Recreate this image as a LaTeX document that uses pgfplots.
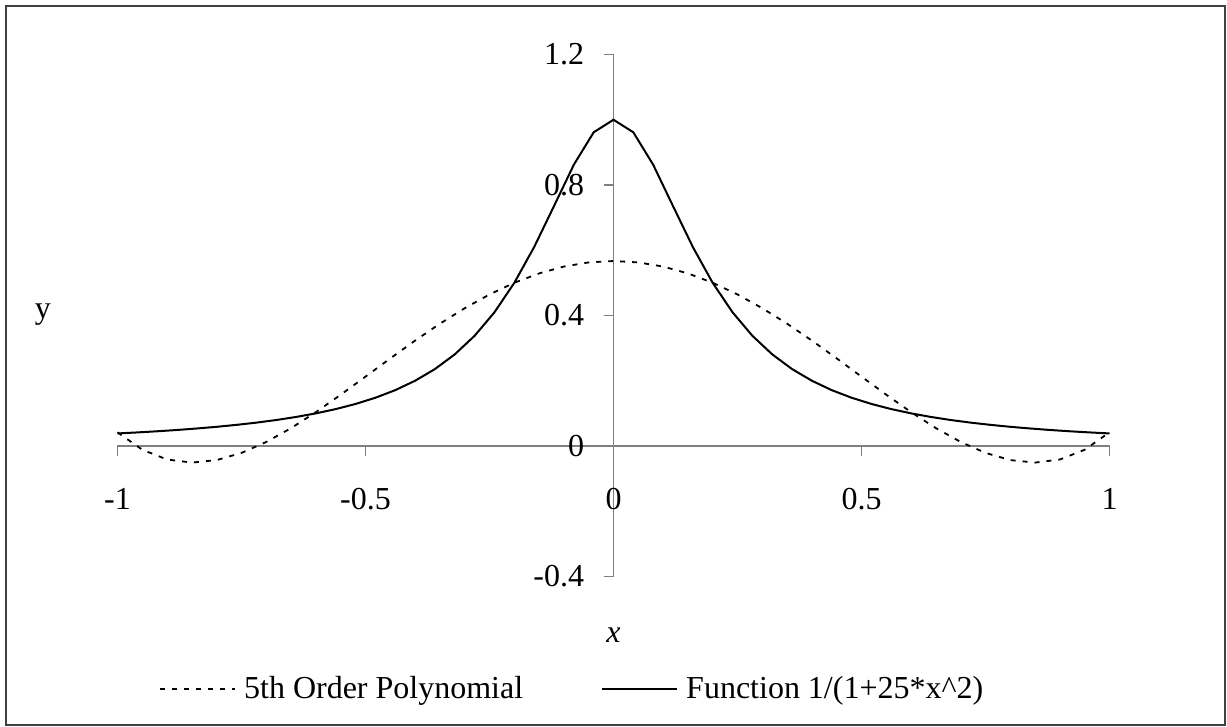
\documentclass[border=0pt]{standalone}
\usepackage{pgfplots}
\pgfplotsset{compat=1.18}
\usepackage{fontspec}
\setmainfont{Liberation Serif}
\begin{document}
\begin{tikzpicture}[font=\fontsize{16}{19}\selectfont]
\useasboundingbox (-58.75pt,-75.25pt) rectangle (554.75pt,288.25pt);
\draw[line width=1pt, color=black!75] (-55.75pt,-74.25pt) rectangle (553.75pt,285.25pt);
\begin{axis}[
  at={(0pt,0pt)}, anchor=south west,
  scale only axis, width=496pt, height=261pt,
  xmin=-1, xmax=1, ymin=-0.4, ymax=1.2,
  axis lines=middle,
  axis line style={black!50, line width=0.65pt, -},
  hide obscured x ticks=false, hide obscured y ticks=false,
  xtick={-1,-0.5,0,0.5,1},
  xticklabels={-1,-0.5,0,0.5,1},
  ytick={-0.4,0,0.4,0.8,1.2},
  yticklabels={-0.4,0,0.4,0.8,1.2},
  tick align=center, major tick length=5pt,
  xtick style={black!50, line width=0.65pt, yshift=-2.5pt},
  ytick style={black!50, line width=0.65pt, xshift=-2.5pt},
  tick label style={font=\fontsize{16}{19}\selectfont, inner sep=0pt},
  label style={font=\fontsize{16}{19}\selectfont},
  xticklabel style={anchor=base, yshift=-29.5pt},
  yticklabel style={anchor=east, xshift=-12pt},
  xlabel={\textit{x}}, ylabel={y},
  every axis x label/.style={at={(axis description cs:0.5,-0.112)}, anchor=center},
  every axis y label/.style={at={(axis description cs:-0.0751,0.501)}, anchor=center},
  legend columns=2,
  legend style={draw=none, fill=none, inner sep=0pt,
    at={(axis description cs:0.0418,-0.2155)}, anchor=west,
    font=\fontsize{16}{19}\selectfont,
    /tikz/every odd column/.append style={column sep=4pt},
    /tikz/every even column/.append style={column sep=39pt},
    nodes={inner sep=0pt}},
  legend cell align=left,
  legend image code/.code={\draw[#1] (0pt,0pt) -- (37.5pt,0pt);},
  clip=false,
]
\addplot[black, line width=0.9pt, dash pattern=on 2.5pt off 3.5pt] coordinates {
(-1,0.042) (-0.95,-0.0115) (-0.9,-0.0414) (-0.85,-0.0509) (-0.8,-0.0432) (-0.75,-0.0212)
(-0.7,0.0124) (-0.65,0.0548) (-0.6,0.1038) (-0.55,0.1571) (-0.5,0.2126) (-0.45,0.2685)
(-0.4,0.3231) (-0.35,0.3748) (-0.3,0.4223) (-0.25,0.4645) (-0.2,0.5003) (-0.15,0.5290)
(-0.1,0.5500) (-0.05,0.5627) (0,0.567) (0.05,0.5627) (0.1,0.5500) (0.15,0.5290)
(0.2,0.5003) (0.25,0.4645) (0.3,0.4223) (0.35,0.3748) (0.4,0.3231) (0.45,0.2685)
(0.5,0.2126) (0.55,0.1571) (0.6,0.1038) (0.65,0.0548) (0.7,0.0124) (0.75,-0.0212)
(0.8,-0.0432) (0.85,-0.0509) (0.9,-0.0414) (0.95,-0.0115) (1,0.042)
};
\addlegendentry{5th Order Polynomial}
\addplot[black, line width=1pt] coordinates {
(-1,0.0385) (-0.96,0.0416) (-0.92,0.0451) (-0.88,0.0491) (-0.84,0.0537) (-0.8,0.0588)
(-0.76,0.0648) (-0.72,0.0716) (-0.68,0.0796) (-0.64,0.0890) (-0.6,0.1) (-0.56,0.1131)
(-0.52,0.1289) (-0.48,0.1479) (-0.44,0.1712) (-0.4,0.2) (-0.36,0.2358) (-0.32,0.2809)
(-0.28,0.3378) (-0.24,0.4098) (-0.2,0.5) (-0.16,0.6098) (-0.12,0.7353) (-0.08,0.8621)
(-0.04,0.9615) (0,1) (0.04,0.9615) (0.08,0.8621) (0.12,0.7353) (0.16,0.6098) (0.2,0.5)
(0.24,0.4098) (0.28,0.3378) (0.32,0.2809) (0.36,0.2358) (0.4,0.2) (0.44,0.1712)
(0.48,0.1479) (0.52,0.1289) (0.56,0.1131) (0.6,0.1) (0.64,0.0890) (0.68,0.0796)
(0.72,0.0716) (0.76,0.0648) (0.8,0.0588) (0.84,0.0537) (0.88,0.0491) (0.92,0.0451)
(0.96,0.0416) (1,0.0385)
};
\addlegendentry{Function 1/(1+25*x\^{}2)}
\end{axis}
\end{tikzpicture}
\end{document}
